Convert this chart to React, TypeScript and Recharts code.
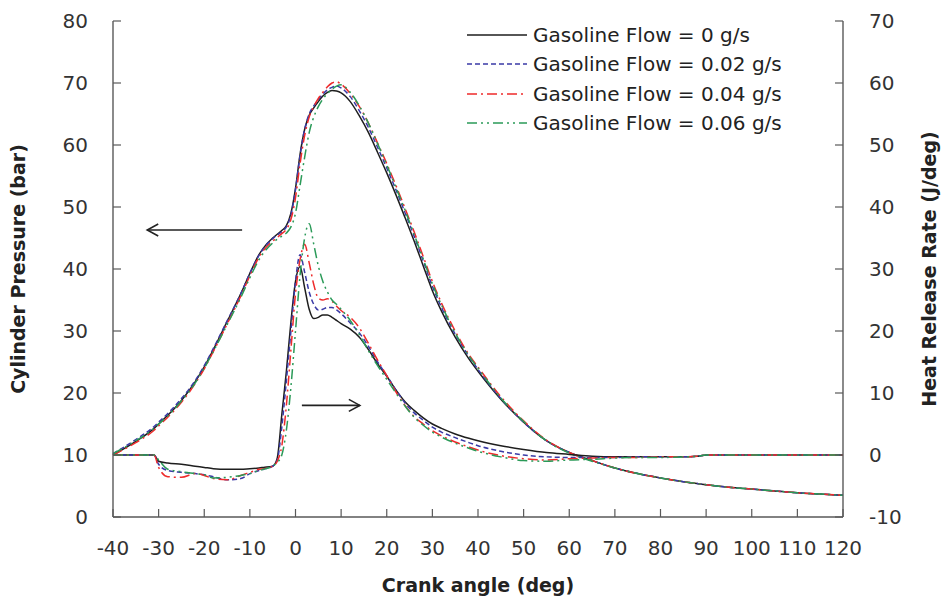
import React from "react";
import {
  Legend,
  Line,
  LineChart,
  ReferenceLine,
  XAxis,
  YAxis,
} from "recharts";

const FONT = "'DejaVu Sans', sans-serif";

// crank angle samples (deg)
const angles = [
  -40, -35, -31, -30, -28, -25, -22, -20, -18, -15, -12, -10, -8, -7, -5, -4, -3, -2, -1, 0,
  1, 2, 3, 4, 5, 6, 7, 8, 9, 10, 12, 14, 16, 18, 20, 22, 24, 26, 28, 30,
  32, 35, 38, 40, 45, 50, 55, 60, 65, 70, 75, 80, 85, 88, 90, 95, 100, 105, 110, 115, 120,
];

// cylinder pressure (bar)
const pressure0 = [
  10, 12.2, 14.3, 15, 16.4, 18.8, 21.8, 24.2, 27, 31.5, 36, 39.3, 42.3, 43.4, 45, 45.6, 46.2, 47, 49, 53,
  58.5, 62.5, 64.8, 66, 67, 67.9, 68.5, 68.8, 68.7, 68.4, 67, 64.7, 62, 58.8, 55.5, 52, 48.3, 44.5, 40.5, 36.5,
  33.2, 29, 25.5, 23.5, 19, 15.3, 12.3, 10.4, 9.1, 7.9, 7, 6.3, 5.7, 5.4, 5.2, 4.8, 4.5, 4.2, 3.9, 3.7, 3.5,
];
const pressure002 = [
  10.2, 12.5, 14.6, 15.3, 16.7, 19.1, 22, 24.4, 27.2, 31.6, 36, 39.3, 42.2, 43.3, 44.9, 45.5, 46, 46.8, 48.7, 52.8,
  58.3, 62.5, 65, 66.3, 67.3, 68.2, 68.9, 69.3, 69.5, 69.2, 67.8, 65.5, 62.8, 59.6, 56.3, 52.8, 49.1, 45.3, 41.3, 37.2,
  33.8, 29.5, 25.9, 23.8, 19.1, 15.3, 12.3, 10.4, 9.1, 7.9, 7, 6.3, 5.7, 5.4, 5.2, 4.8, 4.5, 4.2, 3.9, 3.7, 3.5,
];
const pressure004 = [
  10, 12, 14, 14.7, 16.1, 18.5, 21.5, 23.9, 26.7, 31.1, 35.6, 38.9, 41.9, 43, 44.5, 45.1, 45.7, 46.4, 48, 51.5,
  57, 61.5, 64.5, 66.2, 67.5, 68.5, 69.4, 70, 70.2, 69.8, 68.3, 66.2, 63.5, 60.3, 57, 53.5, 49.8, 46, 42, 38,
  34.5, 30, 26.2, 24.2, 19.4, 15.5, 12.4, 10.4, 9.1, 7.9, 7, 6.3, 5.7, 5.4, 5.2, 4.8, 4.5, 4.2, 3.9, 3.7, 3.5,
];
const pressure006 = [
  10.2, 12.3, 14.3, 15, 16.3, 18.7, 21.6, 24, 26.7, 31, 35.4, 38.6, 41.5, 42.6, 44.2, 44.8, 45.3, 45.8, 46.8, 49,
  53.5, 58, 62, 64.5, 66.2, 67.4, 68.3, 69, 69.5, 69.7, 68.5, 66.3, 63.5, 60.2, 56.8, 53.2, 49.5, 45.6, 41.6, 37.6,
  34.2, 29.7, 26, 24, 19.2, 15.4, 12.3, 10.3, 9, 7.9, 7, 6.3, 5.7, 5.4, 5.2, 4.8, 4.5, 4.2, 3.9, 3.7, 3.5,
];

// heat release rate (J/deg)
const hrr0 = [
  0, 0, 0, -1, -1.3, -1.5, -1.8, -2, -2.2, -2.3, -2.3, -2.2, -2.1, -2, -1.8, -0.5, 6.5, 13.5, 21.5, 28,
  30.4, 27, 23.5, 22, 22.2, 22.6, 22.6, 22.2, 21.7, 21.2, 20.3, 19, 17, 14.7, 12.7, 10.5, 8.6, 7.2, 6, 5,
  4.3, 3.4, 2.7, 2.3, 1.5, 0.9, 0.4, 0.1, -0.2, -0.3, -0.3, -0.3, -0.3, -0.2, 0, 0, 0, 0, 0, 0, 0,
];
const hrr002 = [
  0, 0, 0, -1.5, -2.5, -2.8, -3, -3.2, -3.5, -4, -3.8, -3, -2.5, -2.3, -1.8, -0.8, 4.5, 12, 20, 28,
  32.3, 29.5, 26.3, 24.3, 23.4, 23.5, 23.8, 23.8, 23.4, 22.8, 21.3, 19.7, 17.5, 15, 12.8, 10.5, 8.4, 6.8, 5.6, 4.5,
  3.7, 2.8, 2, 1.5, 0.6, 0, -0.3, -0.4, -0.4, -0.4, -0.3, -0.3, -0.3, -0.2, 0, 0, 0, 0, 0, 0, 0,
];
const hrr004 = [
  0, 0, 0, -2, -3.5, -3.6, -3, -3.3, -3.8, -4, -3.3, -2.8, -2.3, -2.2, -1.8, -1, 1.5, 8, 17, 26,
  31.5, 34, 31, 27.5, 25.3, 25, 25.2, 24.8, 24, 23.3, 22.2, 20.5, 18, 15.3, 12.8, 10.2, 8, 6.2, 5, 3.9,
  3.1, 2.1, 1.3, 0.8, -0.1, -0.6, -0.8, -0.6, -0.5, -0.4, -0.4, -0.3, -0.3, -0.2, 0, 0, 0, 0, 0, 0, 0,
];
const hrr006 = [
  0, 0, 0, -0.8, -2.3, -2.7, -3, -3.2, -3.7, -3.6, -3.3, -3, -2.5, -2.3, -1.8, -1.2, 0, 4, 11, 20,
  29, 35, 37.3, 34, 30.5, 28, 26.3, 25, 24.3, 23.5, 21.7, 19.4, 16.8, 14.4, 12.2, 10, 7.9, 6.1, 4.8, 3.7,
  2.9, 1.9, 1.1, 0.6, -0.3, -0.9, -1, -0.8, -0.7, -0.5, -0.4, -0.4, -0.3, -0.2, 0, 0, 0, 0, 0, 0, 0,
];

const xTicks = [-40, -30, -20, -10, 0, 10, 20, 30, 40, 50, 60, 70, 80, 90, 100, 110, 120];
const pressureTicks = [0, 10, 20, 30, 40, 50, 60, 70, 80];
const hrrTicks = [-10, 0, 10, 20, 30, 40, 50, 60, 70];

const series = [
  { id: "f0", label: "Gasoline Flow = 0 g/s", color: "#1e1e1e", dash: undefined, p: pressure0, h: hrr0 },
  { id: "f002", label: "Gasoline Flow = 0.02 g/s", color: "#3a3aa6", dash: "5 3", p: pressure002, h: hrr002 },
  { id: "f004", label: "Gasoline Flow = 0.04 g/s", color: "#ee2b2b", dash: "10 4 2 4", p: pressure004, h: hrr004 },
  { id: "f006", label: "Gasoline Flow = 0.06 g/s", color: "#2a9a58", dash: "10 4 2 4 2 4", p: pressure006, h: hrr006 },
];

const rows = angles.map((angle, i) => {
  const row: Record<string, number> = { angle };
  series.forEach((s) => {
    row[`p_${s.id}`] = s.p[i];
    row[`h_${s.id}`] = s.h[i];
  });
  return row;
});

const AXIS = "#595959";

function arrowShape(props: any) {
  const { x1, y1, x2, y2 } = props;
  const dir = x2 > x1 ? 1 : -1;
  return (
    <g>
      <line x1={x1} y1={y1} x2={x2} y2={y2} stroke="#222" strokeWidth={1.6} />
      <path
        d={`M${x2 - dir * 11},${y2 - 6} L${x2},${y2} L${x2 - dir * 11},${y2 + 6}`}
        fill="none"
        stroke="#222"
        strokeWidth={1.6}
      />
    </g>
  );
}

function renderLegend() {
  return (
    <div style={{ fontFamily: FONT, fontSize: 20, color: "#222" }}>
      {series.map((s) => (
        <div key={s.id} style={{ display: "flex", alignItems: "center", height: 29.5 }}>
          <svg width={60} height={10} style={{ marginRight: 6 }}>
            <line x1={0} y1={5} x2={60} y2={5} stroke={s.color} strokeWidth={1.5} strokeDasharray={s.dash} />
          </svg>
          <span style={{ whiteSpace: "nowrap" }}>{s.label}</span>
        </div>
      ))}
    </div>
  );
}

const tickStyle = { fill: "#333", fontSize: 20, fontFamily: FONT };
const titleStyle = { fill: "#222", fontSize: 19, fontWeight: 700, fontFamily: FONT };

export default function App() {
  return (
    <div style={{ position: "absolute", left: 0, top: 0, background: "#fff" }}>
      <LineChart width={944} height={601} data={rows} margin={{ top: 21, right: 0, bottom: 0, left: 0 }}>
        <XAxis
          dataKey="angle"
          type="number"
          domain={[-40, 120]}
          ticks={xTicks}
          height={84}
          tickSize={-8}
          tickMargin={32}
          tick={tickStyle}
          axisLine={{ stroke: AXIS, strokeWidth: 1.4 }}
          tickLine={{ stroke: AXIS, strokeWidth: 1.2 }}
          label={{ value: "Crank angle (deg)", position: "center", dy: 26, ...titleStyle }}
        />
        <YAxis
          yAxisId="left"
          orientation="left"
          domain={[0, 80]}
          ticks={pressureTicks}
          width={113}
          tickSize={-8}
          tickMargin={33}
          tick={tickStyle}
          axisLine={{ stroke: AXIS, strokeWidth: 1.4 }}
          tickLine={{ stroke: AXIS, strokeWidth: 1.2 }}
          label={{ value: "Cylinder Pressure (bar)", angle: -90, position: "center", dx: -38, ...titleStyle }}
        />
        <YAxis
          yAxisId="right"
          orientation="right"
          domain={[-10, 70]}
          ticks={hrrTicks}
          width={101}
          tickSize={-8}
          tickMargin={34}
          tick={tickStyle}
          axisLine={{ stroke: AXIS, strokeWidth: 1.4 }}
          tickLine={{ stroke: AXIS, strokeWidth: 1.2 }}
          label={{ value: "Heat Release Rate (J/deg)", angle: -90, position: "center", dx: 36, ...titleStyle }}
        />
        <Legend
          layout="vertical"
          align="center"
          verticalAlign="middle"
          content={renderLegend}
          wrapperStyle={{ left: 467, top: 20, width: 380, height: 120 }}
        />
        {series.map((s) => (
          <Line
            key={`p_${s.id}`}
            yAxisId="left"
            type="monotone"
            dataKey={`p_${s.id}`}
            stroke={s.color}
            strokeWidth={1.5}
            strokeDasharray={s.dash}
            dot={false}
            activeDot={false}
            isAnimationActive={false}
            legendType="none"
          />
        ))}
        {series.map((s) => (
          <Line
            key={`h_${s.id}`}
            yAxisId="right"
            type="monotone"
            dataKey={`h_${s.id}`}
            stroke={s.color}
            strokeWidth={1.5}
            strokeDasharray={s.dash}
            dot={false}
            activeDot={false}
            isAnimationActive={false}
            legendType="none"
          />
        ))}
        <ReferenceLine
          yAxisId="left"
          segment={[
            { x: -11.7, y: 46.3 },
            { x: -32.5, y: 46.3 },
          ]}
          shape={arrowShape}
        />
        <ReferenceLine
          yAxisId="left"
          segment={[
            { x: 1.4, y: 18 },
            { x: 14.1, y: 18 },
          ]}
          shape={arrowShape}
        />
      </LineChart>
    </div>
  );
}
